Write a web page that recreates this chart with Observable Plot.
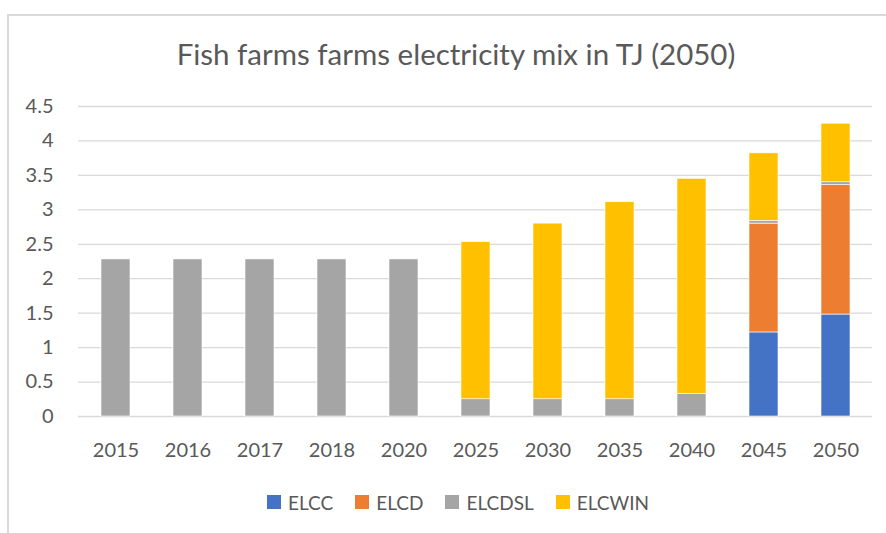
<!DOCTYPE html>
<html>
<head>
<meta charset="utf-8">
<script src="https://cdn.jsdelivr.net/npm/d3@7"></script>
<script src="https://cdn.jsdelivr.net/npm/@observablehq/plot@0.6"></script>
<style>
  html, body { margin: 0; padding: 0; background: #fff; }
  #wrap { position: relative; width: 886px; height: 533px; overflow: hidden; font-family: Lato, "Open Sans", sans-serif; }
  #frame { position: absolute; left: 7px; top: 14px; width: 890px; height: 540px; border-left: 2px solid #d9d9d9; border-top: 2px solid #d9d9d9; box-sizing: border-box; }
  #title { position: absolute; left: 0; width: 912px; top: 36px; text-align: center; font-size: 29.5px; line-height: 36px; color: #595959; white-space: nowrap; }
  #chart { position: absolute; left: 0; top: 0; }
  #legend { position: absolute; top: 490px; left: 267px; height: 24px; display: flex; align-items: center; gap: 22px; font-size: 19px; color: #595959; }
  .item { display: flex; align-items: center; gap: 7px; }
  .sw { width: 14px; height: 14px; display: inline-block; }
</style>
</head>
<body>
<div id="wrap">
  <div id="frame"></div>
  <div id="chart"></div>
  <div id="title">Fish farms farms electricity mix in TJ (2050)</div>
  <div id="legend"></div>
</div>
<script>
const years = ["2015","2016","2017","2018","2020","2025","2030","2035","2040","2045","2050"];
const seriesNames = ["ELCC","ELCD","ELCDSL","ELCWIN"];
const seriesColors = ["#4472C4","#ED7D31","#A5A5A5","#FFC000"];
const ELCC   = [0,0,0,0,0,0,0,0,0,1.22,1.48];
const ELCD   = [0,0,0,0,0,0,0,0,0,1.58,1.88];
const ELCDSL = [2.28,2.28,2.28,2.28,2.28,0.25,0.25,0.25,0.33,0.04,0.04];
const ELCWIN = [0,0,0,0,0,2.28,2.55,2.86,3.12,0.98,0.85];
const yTicks = [0,0.5,1,1.5,2,2.5,3,3.5,4,4.5];

const seriesValues = [ELCC, ELCD, ELCDSL, ELCWIN];
const data = [];
seriesNames.forEach((s, i) => {
  years.forEach((y, j) => {
    const v = seriesValues[i][j];
    if (v > 0) data.push({year: y, series: s, value: v});
  });
});

const chart = Plot.plot({
  width: 886,
  height: 533,
  marginTop: 106,
  marginBottom: 117,
  marginLeft: 78,
  marginRight: 14,
  style: {fontFamily: "Lato, 'Open Sans', sans-serif", fontSize: "20px", color: "#595959", background: "transparent"},
  x: {domain: years, paddingInner: 0.6, paddingOuter: 0.3, label: null},
  y: {domain: [0, 4.5], label: null},
  color: {domain: seriesNames, range: seriesColors},
  marks: [
    Plot.ruleY(yTicks, {stroke: "#d9d9d9", strokeWidth: 1.3}),
    Plot.barY(data, Plot.stackY({x: "year", y: "value", fill: "series", order: seriesNames, stroke: "white", strokeWidth: 0.6})),
    Plot.axisX({tickSize: 0, tickPadding: 26, fill: "#595959", fontSize: 20}),
    Plot.axisY(yTicks, {tickSize: 0, tickPadding: 25, fill: "#595959", fontSize: 20, tickFormat: d => String(d)})
  ]
});
document.getElementById("chart").appendChild(chart);

const legend = document.getElementById("legend");
seriesNames.forEach((s, i) => {
  const it = document.createElement("div");
  it.className = "item";
  const sw = document.createElement("span");
  sw.className = "sw";
  sw.style.background = seriesColors[i];
  const t = document.createElement("span");
  t.textContent = s;
  it.appendChild(sw); it.appendChild(t);
  legend.appendChild(it);
});
</script>
</body>
</html>
